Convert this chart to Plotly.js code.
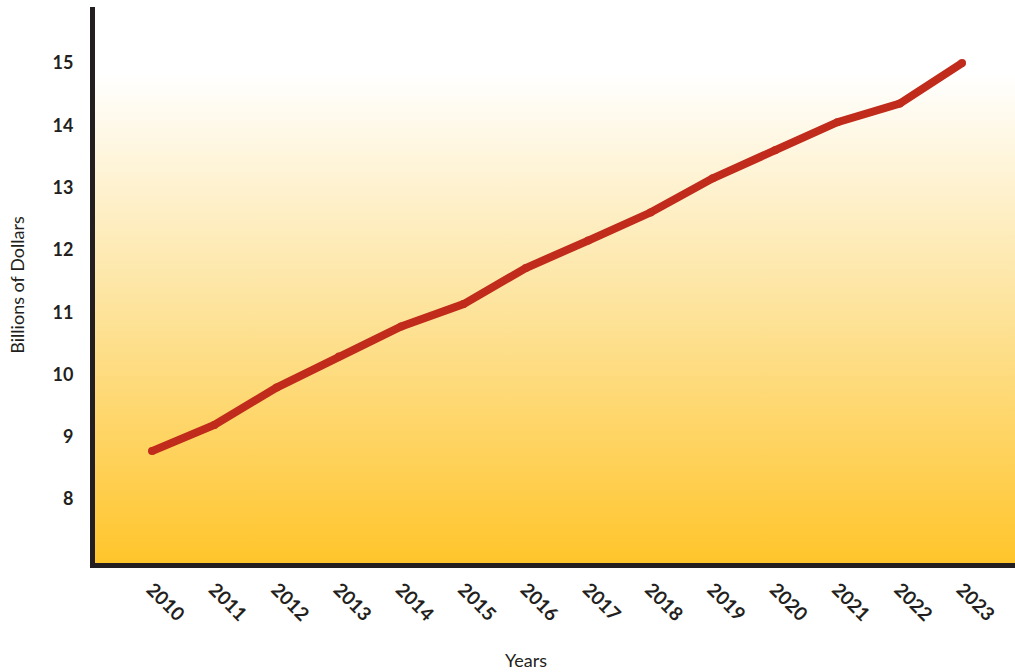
<!DOCTYPE html>
<html>
<head>
<meta charset="utf-8">
<script src="https://cdn.plot.ly/plotly-3.0.1.min.js"></script>
<style>
  html, body { margin: 0; padding: 0; background: #ffffff; }
  #chart { width: 1015px; height: 672px; }
</style>
</head>
<body>
<div id="chart"></div>
<script>
const years = [2010, 2011, 2012, 2013, 2014, 2015, 2016, 2017, 2018, 2019, 2020, 2021, 2022, 2023];
const values = [8.77, 9.19, 9.79, 10.29, 10.77, 11.13, 11.71, 12.15, 12.6, 13.15, 13.6, 14.05, 14.35, 15.0];
const yTicks = [8, 9, 10, 11, 12, 13, 14, 15];

const gradSvg = '<svg xmlns="http://www.w3.org/2000/svg" width="100" height="100" preserveAspectRatio="none" viewBox="0 0 100 100">' +
  '<defs><linearGradient id="g" x1="0" y1="0" x2="0" y2="1">' +
  '<stop offset="0" stop-color="#ffffff"/>' +
  '<stop offset="0.12" stop-color="#ffffff"/>' +
  '<stop offset="0.5" stop-color="#fde6a6"/>' +
  '<stop offset="1" stop-color="#ffc52b"/>' +
  '</linearGradient></defs><rect x="0" y="0" width="100" height="100" fill="url(#g)"/></svg>';
const gradSrc = 'data:image/svg+xml;base64,' + btoa(gradSvg);

const trace = {
  x: years,
  y: values,
  type: 'scatter',
  mode: 'lines+markers',
  line: { color: '#c02b1b', width: 8 },
  marker: { color: '#c02b1b', size: 8 },
  hoverinfo: 'x+y',
  showlegend: false
};

const fam = 'Lato, "Open Sans", sans-serif';

const layout = {
  width: 1015,
  height: 672,
  margin: { l: 95, r: 0, t: 7, b: 109 },
  paper_bgcolor: '#ffffff',
  plot_bgcolor: 'rgba(0,0,0,0)',
  images: [{
    source: gradSrc,
    xref: 'paper', yref: 'paper',
    x: 0, y: 1, sizex: 1, sizey: 1,
    xanchor: 'left', yanchor: 'top',
    sizing: 'stretch',
    layer: 'below'
  }],
  xaxis: {
    range: [2009.085, 2023.85],
    tickvals: years,
    ticktext: years.map(String),
    tickangle: 45,
    showgrid: false,
    zeroline: false,
    showline: true,
    linecolor: '#231f20',
    linewidth: 5,
    ticks: '',
    ticklabelstandoff: 3,
    tickfont: { family: fam, size: 19, color: '#231f20', weight: 'bold' }
  },
  yaxis: {
    range: [6.973, 15.9],
    tickvals: yTicks,
    ticktext: yTicks.map(String),
    showgrid: false,
    zeroline: false,
    showline: true,
    linecolor: '#231f20',
    linewidth: 5,
    ticks: '',
    ticklabelstandoff: 13,
    tickfont: { family: fam, size: 18, color: '#231f20', weight: 'bold' },
    title: {
      text: 'Billions of Dollars',
      font: { family: fam, size: 18, color: '#231f20', weight: 'normal' },
      standoff: 25
    }
  },
  annotations: [{
    text: 'Years',
    xref: 'paper', yref: 'paper',
    x: 0.468, y: -0.174,
    xanchor: 'center', yanchor: 'middle',
    showarrow: false,
    font: { family: fam, size: 18, color: '#231f20', weight: 'normal' }
  }]
};

Plotly.newPlot('chart', [trace], layout, { displayModeBar: false, responsive: false });
</script>
</body>
</html>
